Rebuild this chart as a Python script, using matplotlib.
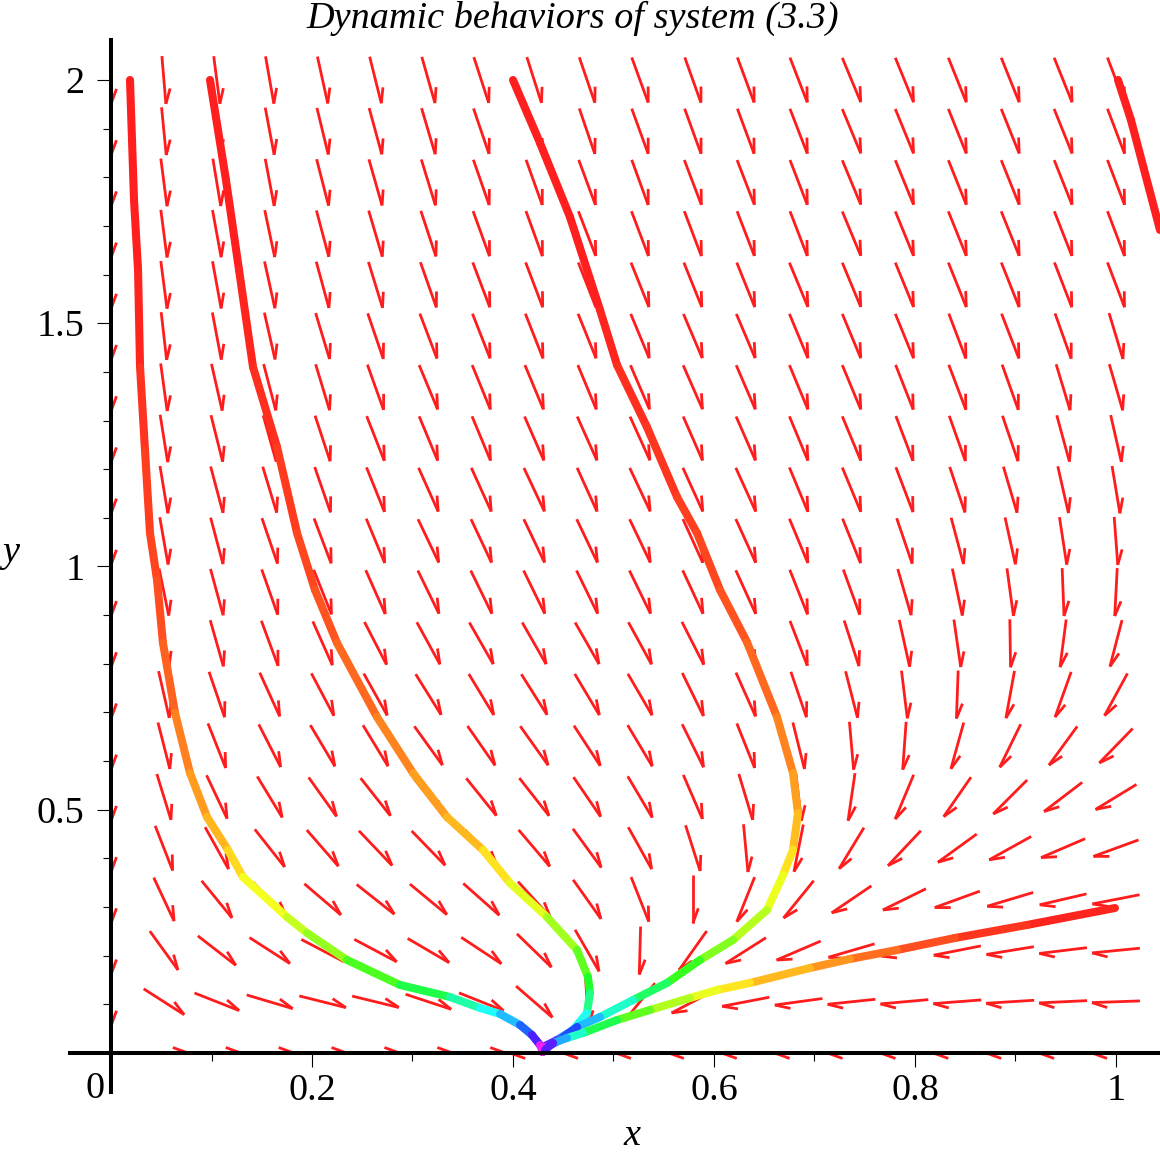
import numpy as np
import matplotlib
matplotlib.use("Agg")
import matplotlib.pyplot as plt
from matplotlib.collections import LineCollection
from matplotlib.colors import hsv_to_rgb
from matplotlib.ticker import FixedLocator, FixedFormatter

plt.rcParams['font.family'] = ['Liberation Serif', 'DejaVu Serif']

# ---------------- direction field (20 x 20 grid, rows from y=0 upward) ----------------
x_grid = np.linspace(0.0, 1.0, 20)
y_grid = np.linspace(0.0, 2.0, 20)

# on-screen arrow direction components (right +, up +)
U0 = [0, 48, 48, 48, 48, 48, 48, 48, -48, -48, -48, -48, -48, -48, -48, -48, -48, -48, -48, -48]
V0 = [0, 0, 0, 0, 0, 0, 0, 0, 0, 0, 0, 0, 0, 0, 0, 0, 0, 0, 0, 0]
U1 = [0, 40.7, 45, 46, 46.7, 45, 45.5, 44.6, 36.7, 3, -30, -42, -47, -47.5, -48, -48, -48, -48, -48, -48]
V1 = [-48, -26, -17.7, -13.7, -11.7, -11, -15, -17.8, -31.7, -48, -37, -22, -9, -6.5, -5, -4.3, -3.7, -3, -2.3, -1.7]
U2 = [0, 27, 37, 40, 42, 41, 41, 39, 34, 23, -1.3, -27, -36.7, -42, -45.7, -46.5, -47.3, -47.3, -47.3, -47.7]
V2 = [-48, -37.3, -28.7, -25.7, -22, -21.7, -24, -25.7, -33, -40, -46.7, -38, -23.3, -18, -13.3, -11, -9.3, -7.7, -5.7, -4.7]
U3 = [0, 19.3, 30, 32, 34, 36.7, 35, 35, 30, 27.7, 17, 0, -16.7, -30, -39.3, -43.3, -46, -46.7, -47.3, -47.7]
V3 = [-48, -41.3, -36.7, -33, -29, -29, -29, -31, -33, -39, -43, -47, -41.7, -37, -26.7, -21.3, -16.7, -14, -11, -9.3]
U4 = [0, 16, 22.3, 29, 30.7, 32.7, 32.3, 31, 30, 27.7, 22.3, 13.3, 4, -8.3, -24.7, -33, -39, -42, -44.3, -45.7]
V4 = [-48, -41, -40, -36.7, -35.3, -34.3, -33.3, -35, -35.3, -38, -40, -41.7, -43.3, -41.7, -40.7, -35, -28.3, -23.3, -19, -16.7]
U5 = [0, 13.3, 20, 24.3, 27.3, 29, 29, 28.7, 29.3, 26.7, 24.3, 18.3, 13.3, 5, -6.7, -18, -27, -33.3, -38, -41]
V5 = [-48, -43.3, -42.3, -40, -38.3, -36.7, -37, -35.7, -37.3, -39, -41, -42.3, -44.3, -43, -45.7, -43, -39, -33.3, -29, -25]
U6 = [0, 11.3, 17.3, 21, 24, 25, 27.7, 26.7, 27.3, 25.7, 24.3, 20.7, 17.3, 11, 4, -3.3, -12.3, -20.7, -28, -33.3]
V6 = [-48, -44.3, -43.7, -41, -40.3, -41, -38.3, -38.3, -38.3, -39.3, -40.7, -41.7, -43.3, -44.3, -46, -46, -44.3, -42.3, -38.3, -34.3]
U7 = [0, 10, 15, 19, 21.7, 22.3, 25, 24.7, 25.7, 24.3, 23.7, 20.7, 19.3, 15, 11.7, 5.7, -1.7, -8.3, -15.7, -22.3]
V7 = [-48, -44, -44, -41.7, -41, -40, -40, -40.7, -40.7, -40.7, -40.7, -42.3, -43.3, -44, -45.7, -46.7, -46.7, -45.7, -44, -41]
U8 = [0, 9.5, 12.3, 16, 19.3, 21, 22.3, 23.3, 23.3, 23.3, 22.3, 20.7, 19, 16.7, 14.3, 10, 6.7, 0.7, -6, -12]
V8 = [-48, -44, -43.3, -43.3, -43.3, -40.7, -40.7, -40.7, -40.7, -40.7, -40.7, -40.7, -42, -43.3, -44.3, -45.3, -46.7, -46.7, -46, -46]
U9 = [0, 9, 12, 15.5, 17.5, 19.5, 21.5, 21.5, 21.5, 21.5, 21.5, 20.5, 20, 17.5, 16, 12.7, 9.3, 6, 1.7, -2.3]
U10 = [0, 7.7, 11.7, 15, 16.7, 18.3, 21, 20.7, 21, 21, 21, 20, 20, 18.3, 17.7, 15, 11.7, 9.7, 6.7, 3.3]
U11 = [0, 7.3, 11.7, 13.3, 15.3, 17.7, 19.7, 20, 20.7, 20, 20.7, 20, 20, 18.3, 18.3, 16.7, 14.7, 13, 10, 7.3]
U12 = [0, 7, 11, 12.3, 14.5, 17.3, 18.3, 18.3, 19.3, 19.7, 20, 19.3, 19.3, 18.3, 18.3, 16.7, 15.7, 15, 12, 10]
U13 = [0, 6, 10, 11.5, 13.3, 15.7, 18.3, 18, 18.3, 18.3, 19, 19.3, 19, 18.3, 18.3, 17.3, 16.7, 15.7, 13.3, 12.7]
U14 = [0, 5, 8.3, 10, 13.3, 15, 16.7, 17.3, 17.3, 17.7, 18.3, 18.7, 18.7, 18.3, 18.3, 18, 16.7, 17, 15.7, 13.3]
U15 = [0, 5.7, 8, 9.7, 12, 13.5, 15.5, 16.7, 16.7, 17.2, 17.7, 17.7, 17.7, 18.3, 18.3, 18, 17.7, 17.5, 17, 16.7]
U16 = [0, 5.7, 8, 9.3, 11.7, 13, 14.5, 16, 16, 17, 16.7, 16.7, 17, 17, 18.3, 18, 17.7, 17.7, 17.3, 16.7]
U17 = [0, 5.7, 7.3, 8.3, 11.3, 12.5, 13.5, 15.3, 15.7, 16.3, 16, 16.7, 17, 17, 18.3, 18, 17.7, 17.7, 17.5, 16.7]
U18 = [0, 4.3, 6.5, 8.3, 10.7, 12, 13, 15, 15, 15, 16, 16, 16.3, 17, 18.3, 18, 17.7, 17.7, 17.7, 16.7]
U19 = [0, 3.7, 5.7, 7.7, 9.7, 11, 12.5, 14.3, 14, 15, 16, 15.7, 16.3, 17, 18.3, 18, 17.7, 17.7, 17.7, 16.7]
V_up = [-44, -44, -44, -44, -44, -44, -44, -44, -44, -44, -44, -44, -44, -44, -44, -44, -44, -44, -44, -44]

U_rows = [U0, U1, U2, U3, U4, U5, U6, U7, U8, U9, U10, U11, U12, U13, U14, U15, U16, U17, U18, U19]
V_rows = [V0, V1, V2, V3, V4, V5, V6, V7, V8] + [V_up] * 11

# ---------------- trajectories (x, y, hue along the curve) ----------------
T1_x = [0.0189, 0.0229, 0.0269, 0.0289, 0.0338, 0.0388, 0.0458, 0.0517, 0.0637, 0.0786, 0.0955, 0.1164,
        0.1313, 0.1751, 0.1950, 0.2348, 0.2876, 0.3373, 0.3672, 0.3871, 0.4070, 0.4189, 0.4269, 0.4299]
T1_y = [2.0, 1.7533, 1.6095, 1.4101, 1.2395, 1.0689, 0.9723, 0.8428, 0.6989, 0.5755, 0.4851, 0.4173,
        0.3618, 0.2795, 0.2467, 0.1912, 0.1398, 0.1151, 0.0925, 0.0802, 0.0576, 0.0370, 0.0164, 0.0021]
T1_h = [0, 0, 0, 0.01, 0.02, 0.025, 0.03, 0.04, 0.06, 0.085, 0.10, 0.125,
        0.15, 0.20, 0.22, 0.27, 0.33, 0.40, 0.47, 0.52, 0.58, 0.65, 0.75, 0.88]

T2_x = [0.0985, 0.1144, 0.1274, 0.1413, 0.1652, 0.1851, 0.2030, 0.2249, 0.2647, 0.3005, 0.3343, 0.3701,
        0.3970, 0.4338, 0.4637, 0.4746, 0.4766, 0.4736, 0.4597, 0.4438, 0.4299, 0.4289]
T2_y = [2.0, 1.7945, 1.6095, 1.4101, 1.2456, 1.0689, 0.9517, 0.8428, 0.6906, 0.5755, 0.4851, 0.4173,
        0.3494, 0.2795, 0.2117, 0.1562, 0.1233, 0.0822, 0.0473, 0.0267, 0.0123, 0.0021]
T2_h = [0, 0, 0, 0.01, 0.015, 0.025, 0.035, 0.045, 0.065, 0.085, 0.105, 0.125,
        0.165, 0.21, 0.26, 0.31, 0.37, 0.45, 0.53, 0.65, 0.78, 0.9]

T3_x = [0.4000, 0.4269, 0.4567, 0.4866, 0.5035, 0.5333, 0.5632, 0.5831, 0.6060, 0.6328, 0.6627, 0.6786,
        0.6836, 0.6786, 0.6687, 0.6527, 0.6189, 0.5861, 0.5532, 0.5194, 0.4866, 0.4637, 0.4468, 0.4338, 0.4299]
T3_y = [2.0, 1.8705, 1.7184, 1.5272, 1.4142, 1.2867, 1.1429, 1.0689, 0.9517, 0.8448, 0.6906, 0.5755,
        0.4933, 0.4173, 0.3659, 0.2939, 0.2323, 0.1912, 0.1439, 0.1089, 0.0740, 0.0534, 0.0267, 0.0123, 0.0021]
T3_h = [0, 0, 0, 0, 0.01, 0.015, 0.02, 0.025, 0.035, 0.045, 0.065, 0.085,
        0.105, 0.13, 0.16, 0.20, 0.24, 0.28, 0.35, 0.42, 0.50, 0.60, 0.67, 0.78, 0.9]

T4_x = [0.9990, 0.9114, 0.8398, 0.7821, 0.7353, 0.6955, 0.6358, 0.6030, 0.5761, 0.5363, 0.5035, 0.4697,
        0.4537, 0.4398, 0.4318]
T4_y = [0.2980, 0.2631, 0.2364, 0.2117, 0.1932, 0.1747, 0.1439, 0.1295, 0.1131, 0.0884, 0.0678, 0.0411,
        0.0308, 0.0206, 0.0062]
T4_h = [0, 0.01, 0.025, 0.045, 0.075, 0.10, 0.13, 0.165, 0.20, 0.25, 0.32, 0.42, 0.50, 0.62, 0.8]

T5_x = [1.0020, 1.0149, 1.0438]
T5_y = [2.0, 1.9178, 1.6917]
T5_h = [0, 0, 0]

trajectories = [(T1_x, T1_y, T1_h), (T2_x, T2_y, T2_h), (T3_x, T3_y, T3_h),
                (T4_x, T4_y, T4_h), (T5_x, T5_y, T5_h)]

title_text = "Dynamic behaviors of system (3.3)"
x_major = [0.2, 0.4, 0.6, 0.8, 1.0]
x_major_labels = ["0.2", "0.4", "0.6", "0.8", "1"]
x_minor = [0.1, 0.3, 0.5, 0.7, 0.9]
y_major = [0.5, 1.0, 1.5, 2.0]
y_major_labels = ["0.5", "1", "1.5", "2"]
y_minor = [0.1, 0.2, 0.3, 0.4, 0.6, 0.7, 0.8, 0.9, 1.1, 1.2, 1.3, 1.4, 1.6, 1.7, 1.8, 1.9]

# ---------------- figure ----------------
W, H = 1160, 1154
FS = 27.5
fig = plt.figure(figsize=(W / 100, H / 100), dpi=100)
ax = fig.add_axes([70 / W, (H - 1092) / H, 1090 / W, 1052 / H])
ax.set_xlim(-0.0408, 1.0438)
ax.set_ylim(-0.0802, 2.0822)
ax.patch.set_alpha(0)

arrow_color = '#ff1c1c'
half_len = 24.0   # px
barb_len = 16.0   # px
barb_ang = np.deg2rad(20)
trans = ax.transData
inv = trans.inverted()
segs = []
for j, yv in enumerate(y_grid):
    for i, xv in enumerate(x_grid):
        u, v = U_rows[j][i], V_rows[j][i]
        n = np.hypot(u, v)
        if n == 0:
            continue
        d = np.array([u, v]) / n
        c = trans.transform((xv, yv))
        tail = c - half_len * d
        tip = c + half_len * d
        r = -d
        ca, sa = np.cos(-barb_ang), np.sin(-barb_ang)
        b = np.array([r[0] * ca - r[1] * sa, r[0] * sa + r[1] * ca])
        barb = tip + barb_len * b
        segs.append(inv.transform(np.array([tail, tip])))
        segs.append(inv.transform(np.array([tip, barb])))
ax.add_collection(LineCollection(segs, colors=arrow_color, linewidths=2.0,
                                 capstyle='butt', zorder=2))

for xs, ys, hs in trajectories:
    pts = np.column_stack([xs, ys])
    tsegs = np.stack([pts[:-1], pts[1:]], axis=1)
    hs = np.asarray(hs, dtype=float)
    hmid = (hs[:-1] + hs[1:]) / 2
    cols = hsv_to_rgb(np.column_stack([hmid, np.full_like(hmid, 0.88), np.ones_like(hmid)]))
    ax.add_collection(LineCollection(tsegs, colors=cols, linewidths=5.8,
                                     capstyle='round', joinstyle='round', zorder=2.3))

# axes through origin, Maple style
for s in ['top', 'right']:
    ax.spines[s].set_visible(False)
ax.spines['left'].set_position(('data', 0))
ax.spines['bottom'].set_position(('data', 0))
for s in ['left', 'bottom']:
    ax.spines[s].set_linewidth(2.9)
    ax.spines[s].set_zorder(3)

ax.xaxis.set_major_locator(FixedLocator(x_major))
ax.xaxis.set_major_formatter(FixedFormatter(x_major_labels))
ax.xaxis.set_minor_locator(FixedLocator(x_minor))
ax.yaxis.set_major_locator(FixedLocator(y_major))
ax.yaxis.set_major_formatter(FixedFormatter(y_major_labels))
ax.yaxis.set_minor_locator(FixedLocator(y_minor))
ax.tick_params(axis='both', which='major', direction='out', length=10, width=0.8,
               labelsize=FS, color='black')
ax.tick_params(axis='both', which='minor', direction='out', length=5.5, width=0.8, color='black')
ax.tick_params(axis='x', which='major', pad=5)
ax.tick_params(axis='y', which='major', pad=9)

ax.text(-0.016, -0.074, "0", fontsize=FS, ha='center', va='center')

ax.set_xlabel("x", fontsize=FS, style='italic')
ax.xaxis.set_label_coords((632 - 70) / 1090, (1092 - 1136) / 1052)
ax.xaxis.label.set_va('center')
ax.set_ylabel("y", fontsize=FS, style='italic', rotation=0)
ax.yaxis.set_label_coords((11 - 70) / 1090, (1092 - 553) / 1052)
ax.yaxis.label.set_va('center')
ax.yaxis.label.set_ha('center')

ax.set_title(title_text, fontsize=FS, style='italic', x=(573 - 70) / 1090, y=1.0, pad=9.0)

fig.savefig("out.png", dpi=100)
